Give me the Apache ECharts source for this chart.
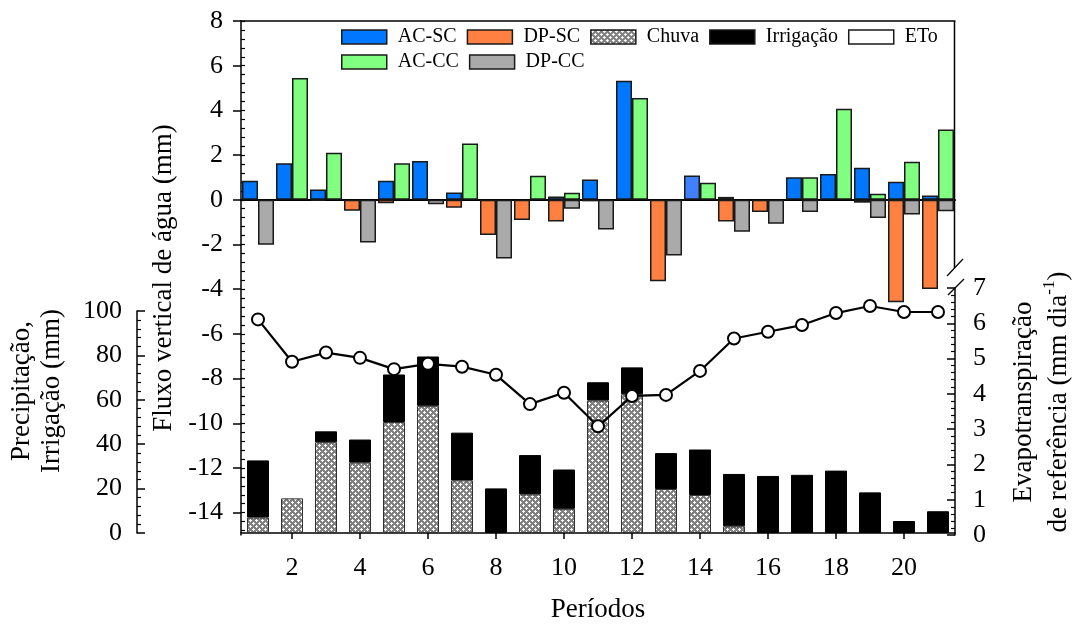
<!DOCTYPE html>
<html><head><meta charset="utf-8">
<script src="https://cdn.jsdelivr.net/npm/echarts@6/dist/echarts.min.js"></script>
<style>html,body{margin:0;padding:0;background:#fff}#c{width:1081px;height:624px}</style>
</head><body><div id="c"></div>
<script>
// ---- data ----
const periods = ['1','2','3','4','5','6','7','8','9','10','11','12','13','14','15','16','17','18','19','20','21'];
const acSC = [0.85,1.64,0.46,0,0.85,1.73,0.33,0,0,0.15,0.91,5.33,0,1.09,0.13,0,1.01,1.15,1.43,0.81,0.19];
const acCC = [0,5.45,2.10,0,1.63,0,2.52,0,1.07,0.31,0,4.55,0,0.76,0,0,1.01,4.07,0.27,1.70,3.15];
const dpSC = [0,0,-0.05,-0.49,-0.16,0,-0.36,-1.58,-0.91,-0.97,-0.07,0,-3.65,0,-0.97,-0.55,0,0,-0.13,-4.58,-3.99];
const dpCC = [-2.01,0,0,-1.91,0,-0.20,0,-2.63,0,-0.40,-1.33,0,-2.49,0,-1.43,-1.07,-0.55,0,-0.81,-0.66,-0.51];
const chuva = [7.0,15.6,40.9,31.7,50.0,57.3,23.7,0,17.4,10.9,59.7,62.5,19.8,17.1,3.0,0,0,0,0,0,0];
const irrigacao = [25.7,0,4.9,10.4,21.4,22.2,21.5,20.1,17.7,17.7,8.2,12.1,16.2,20.5,23.6,25.7,26.2,28.1,18.3,5.4,9.8];
const eto = [6.11,4.91,5.17,5.02,4.70,4.85,4.77,4.54,3.71,4.03,3.08,3.94,3.97,4.65,5.57,5.76,5.95,6.29,6.49,6.32,6.32];
const fluxTicks = [-14,-12,-10,-8,-6,-4,-2,0,2,4,6,8];

// ---- helpers ----
const FONT = '"Liberation Serif", "Times New Roman", serif';
const nz = arr => arr.map(v => v === 0 ? null : v);
const fluxMinor = [];
for (let k = -2; k <= 55; k++) fluxMinor.push(Math.round((-14 + 0.4 * k) * 100) / 100);

function makePattern() {
  const c = document.createElement('canvas'); c.width = 6; c.height = 6;
  const g = c.getContext('2d');
  g.fillStyle = '#808080'; g.fillRect(0, 0, 6, 6);
  g.fillStyle = '#ffffff';
  const plus = (x, y) => { g.fillRect(x, y, 1, 1); g.fillRect(x - 1, y, 1, 1); g.fillRect(x + 1, y, 1, 1); g.fillRect(x, y - 1, 1, 1); g.fillRect(x, y + 1, 1, 1); };
  plus(1, 1); plus(4, 4);
  return c;
}
const pattern = { image: makePattern(), repeat: 'repeat' };

const GL = 241, GR = 126, GB = 89;
const border = { borderColor: '#1a1a1a', borderWidth: 1.5 };
const catInterval = (i) => i % 2 === 1;
const TICKFS = 26;

const legendCommon = {
  itemWidth: 45, itemHeight: 14, itemGap: 10, icon: 'rect', selectedMode: false, padding: 0,
  itemStyle: { borderColor: '#1a1a1a', borderWidth: 1.5 },
  textStyle: { fontFamily: FONT, fontSize: 20, color: '#000', padding: [0, 0, 0, 6] }
};

const chart = echarts.init(document.getElementById('c'), null, { renderer: 'canvas' });
chart.setOption({
  animation: false,
  textStyle: { fontFamily: FONT, color: '#000' },
  grid: [
    { left: GL, right: GR, top: 21, bottom: GB },
    { left: GL, right: GR, top: 311, bottom: GB },
    { left: GL, right: GR, top: 288, bottom: GB }
  ],
  legend: [
    Object.assign({ data: ['AC-SC', 'DP-SC', 'Chuva', 'Irrigação',
             { name: 'ETo', icon: 'rect', itemStyle: { color: '#fff', borderColor: '#1a1a1a', borderWidth: 1.5 } }],
      left: 341, top: 27 }, legendCommon),
    Object.assign({ data: ['AC-CC', 'DP-CC'], left: 341, top: 52 }, legendCommon)
  ],
  xAxis: [
    { gridIndex: 0, type: 'category', data: periods, position: 'bottom',
      axisLine: { onZero: true, lineStyle: { color: '#000', width: 2 } },
      axisTick: { show: false }, axisLabel: { show: false }, splitLine: { show: false } },
    { gridIndex: 0, type: 'category', data: periods, position: 'top',
      axisLine: { onZero: false, lineStyle: { color: '#000', width: 1.5 } },
      axisTick: { show: false }, axisLabel: { show: false }, splitLine: { show: false } },
    { gridIndex: 1, type: 'category', data: periods, position: 'bottom',
      axisLine: { onZero: false, lineStyle: { color: '#000', width: 1.5 } },
      axisTick: { show: true, alignWithLabel: true, interval: catInterval, length: 6, lineStyle: { color: '#000', width: 1.5 } },
      axisLabel: { interval: catInterval, fontSize: TICKFS, fontFamily: FONT, color: '#000', margin: 22 },
      name: 'Períodos', nameLocation: 'middle', nameGap: 63,
      nameTextStyle: { fontSize: 27, fontFamily: FONT, color: '#000' } },
    { gridIndex: 2, type: 'category', data: periods, show: false }
  ],
  yAxis: [
    { gridIndex: 0, type: 'value', min: -15, max: 8, position: 'left',
      axisLine: { show: true, lineStyle: { color: '#000', width: 1.5 } },
      axisTick: { show: true, customValues: fluxTicks, length: 8, lineStyle: { color: '#000', width: 1.5 } },
      axisLabel: { customValues: fluxTicks, fontSize: TICKFS, fontFamily: FONT, color: '#000', margin: 18 },
      splitLine: { show: false },
      name: 'Fluxo vertical de água (mm)', nameLocation: 'middle', nameGap: 58, nameRotate: 90,
      nameTextStyle: { fontSize: 27, fontFamily: FONT, color: '#000' } },
    { gridIndex: 0, type: 'value', min: -15, max: 8, position: 'left',
      axisLine: { show: false },
      axisTick: { show: true, inside: true, customValues: fluxMinor, length: 4, lineStyle: { color: '#000', width: 1.2 } },
      axisLabel: { show: false }, splitLine: { show: false } },
    { gridIndex: 1, type: 'value', min: 0, max: 100, interval: 20, position: 'left', offset: 104,
      axisLine: { show: true, lineStyle: { color: '#000', width: 1.5 } },
      axisTick: { show: true, inside: true, length: 8, lineStyle: { color: '#000', width: 1.5 } },
      minorTick: { show: true, splitNumber: 5, length: 4, lineStyle: { color: '#000', width: 1.2 } },
      axisLabel: { fontSize: TICKFS, fontFamily: FONT, color: '#000', margin: 15 },
      splitLine: { show: false } },
    { gridIndex: 2, type: 'value', min: 0, max: 7, interval: 1, position: 'right',
      axisLine: { show: true, lineStyle: { color: '#000', width: 1.5 } },
      axisTick: { show: true, inside: true, length: 8, lineStyle: { color: '#000', width: 1.5 } },
      minorTick: { show: true, splitNumber: 5, length: 4, lineStyle: { color: '#000', width: 1.2 } },
      axisLabel: { fontSize: TICKFS, fontFamily: FONT, color: '#000', margin: 18 },
      splitLine: { show: false } }
  ],
  series: [
    { name: 'Chuva', type: 'bar', xAxisIndex: 2, yAxisIndex: 2, stack: 'p', barWidth: 22,
      data: nz(chuva), itemStyle: { color: pattern, borderColor: '#333', borderWidth: 1 } },
    { name: 'Irrigação', type: 'bar', xAxisIndex: 2, yAxisIndex: 2, stack: 'p', barWidth: 22,
      data: nz(irrigacao), itemStyle: { color: '#000', borderColor: '#000', borderWidth: 1 } },
    { name: 'AC-SC', type: 'bar', xAxisIndex: 0, yAxisIndex: 0, stack: 'sc', barWidth: 16, barGap: '0%',
      data: nz(acSC).map((v, i) => i === 13 ? { value: v, itemStyle: { color: '#4080ff' } } : v),
      itemStyle: Object.assign({ color: '#0077ff' }, border) },
    { name: 'AC-CC', type: 'bar', xAxisIndex: 0, yAxisIndex: 0, stack: 'cc', barWidth: 16, barGap: '0%',
      data: nz(acCC), itemStyle: Object.assign({ color: '#80ff80' }, border) },
    { name: 'DP-SC', type: 'bar', xAxisIndex: 0, yAxisIndex: 0, stack: 'sc', barWidth: 16, barGap: '0%',
      data: nz(dpSC), itemStyle: Object.assign({ color: '#ff8040' }, border) },
    { name: 'DP-CC', type: 'bar', xAxisIndex: 0, yAxisIndex: 0, stack: 'cc', barWidth: 16, barGap: '0%',
      data: nz(dpCC), itemStyle: Object.assign({ color: '#aaaaaa' }, border) },
    { name: 'ETo', type: 'line', xAxisIndex: 3, yAxisIndex: 3, data: eto, z: 10,
      symbol: 'circle', symbolSize: 12, showSymbol: true,
      lineStyle: { color: '#000', width: 2.2 },
      itemStyle: { color: '#fff', borderColor: '#000', borderWidth: 2 } }
  ],
  graphic: [
    { type: 'line', shape: { x1: 954.5, y1: 21, x2: 954.5, y2: 268 }, style: { stroke: '#000', lineWidth: 1.5 } },
    { type: 'line', shape: { x1: 947, y1: 276, x2: 963, y2: 259 }, style: { stroke: '#000', lineWidth: 1.2 } },
    { type: 'line', shape: { x1: 948, y1: 295, x2: 964, y2: 279 }, style: { stroke: '#000', lineWidth: 1.2 } },
    { type: 'text', x: 37, y: 391, rotation: Math.PI / 2,
      style: { text: 'Precipitação,\nIrrigação (mm)', fontSize: 27, fontFamily: FONT, fill: '#000',
               align: 'center', verticalAlign: 'middle', lineHeight: 30 } },
    { type: 'text', x: 1041, y: 402, rotation: Math.PI / 2,
      style: { text: 'Evapotranspiração\nde referência (mm dia{sup|-1})', fontSize: 27, fontFamily: FONT, fill: '#000',
               align: 'center', verticalAlign: 'middle', lineHeight: 35,
               rich: { sup: { fontSize: 17, fontFamily: FONT, fill: '#000', verticalAlign: 'top', lineHeight: 17 } } } }
  ]
});
</script>
</body></html>
